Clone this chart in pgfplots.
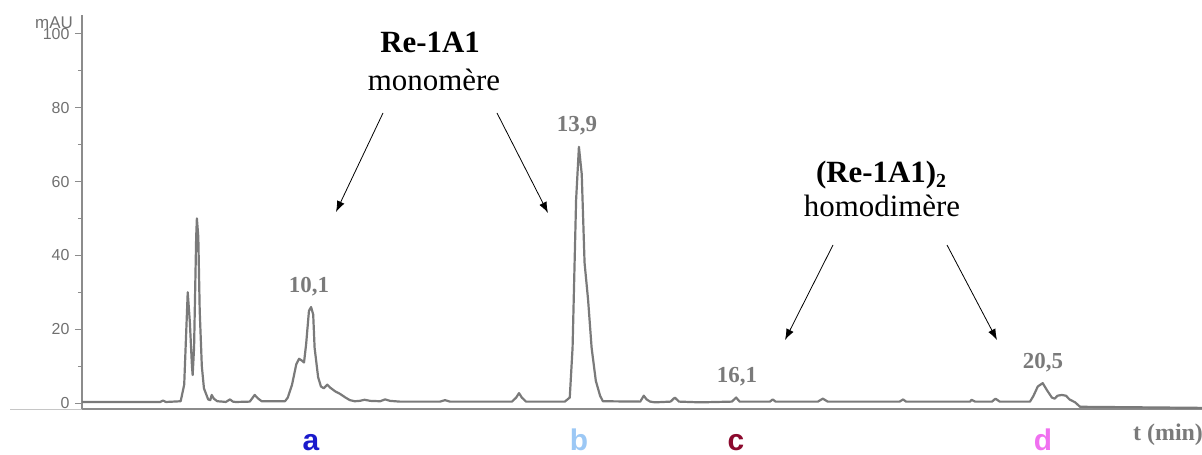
\documentclass[border=0pt]{standalone}
\usepackage{pgfplots}
\pgfplotsset{compat=1.18}
\usetikzlibrary{arrows.meta}
\usepackage{fontspec}
\setmainfont{Liberation Serif}
\newfontfamily\arial{Liberation Sans}
\definecolor{curvegray}{HTML}{7A7A7A}
\definecolor{axisgray}{HTML}{8C8C8C}
\definecolor{labelgray}{HTML}{707070}
\definecolor{peakgray}{HTML}{7A7A7A}
\definecolor{ca}{HTML}{1A1ACC}
\definecolor{cb}{HTML}{9CC8F5}
\definecolor{cc}{HTML}{8C0A2E}
\definecolor{cd}{HTML}{F070F0}
\begin{document}
\begin{tikzpicture}
\begin{axis}[
  at={(82bp,46bp)}, anchor=south west,
  scale only axis, width=1120bp, height=394bp,
  xmin=6.85, xmax=22.74, ymin=-1.6, ymax=105.1,
  axis x line=bottom, axis y line=left,
  axis line style={-, draw=axisgray, line width=1.8bp},
  xtick=\empty,
  ytick={0,20,40,60,80,100}, minor ytick={10,30,50,70,90},
  tick align=outside, major tick length=7bp, minor tick length=4bp,
  tick style={draw=axisgray, line width=1bp},
  yticklabel style={font=\arial\fontsize{16}{16}\selectfont, text=labelgray, xshift=-2bp},
  /pgf/number format/assume math mode=true,
  clip=false,
]
\addplot[curvegray, line width=2.2bp, line join=round] table {
x y
6.85 0.3
7.96 0.3
8.00 0.7
8.04 0.3
8.25 0.5
8.30 5
8.33 20
8.35 30
8.38 22
8.41 10
8.42 7.6
8.44 15
8.47 45
8.48 50
8.50 45
8.52 25
8.55 10
8.58 4
8.61 2.5
8.64 1
8.67 0.8
8.69 2.2
8.72 1.2
8.77 0.5
8.84 0.4
8.89 0.3
8.95 1.0
8.99 0.4
9.03 0.3
9.23 0.4
9.30 2.2
9.35 1.2
9.40 0.5
9.73 0.5
9.77 1.5
9.83 5
9.89 10.5
9.93 12
9.97 11.5
10.00 11
10.03 16
10.07 25
10.10 26
10.13 24
10.15 15
10.20 7
10.24 4.5
10.28 4
10.33 5
10.37 4.2
10.44 3.2
10.51 2.5
10.58 1.6
10.65 0.8
10.72 0.5
10.79 0.6
10.86 0.9
10.94 0.6
11.08 0.5
11.15 1.0
11.22 0.6
11.36 0.4
11.93 0.4
12.00 0.8
12.07 0.4
12.95 0.4
13.01 1.5
13.05 2.7
13.09 1.5
13.15 0.4
13.70 0.4
13.77 1.5
13.81 15
13.86 55
13.90 69.4
13.94 62
13.98 38
14.03 28
14.08 15
14.14 6
14.20 2
14.24 0.5
14.77 0.4
14.82 2
14.86 1
14.91 0.4
14.98 0.2
15.20 0.4
15.26 1.5
15.32 0.4
15.62 0.2
16.07 0.4
16.13 1.5
16.18 0.4
16.61 0.4
16.65 1.0
16.69 0.4
17.29 0.4
17.36 1.2
17.43 0.4
17.82 0.4
18.45 0.4
18.50 1.0
18.54 0.4
19.45 0.4
19.47 0.9
19.52 0.4
19.76 0.4
19.81 1.2
19.87 0.4
20.30 0.4
20.35 2
20.41 4.5
20.48 5.4
20.54 3.5
20.61 1.5
20.65 1.2
20.69 2
20.75 2.2
20.81 2
20.86 1
20.94 0.2
21.01 -1.0
22.74 -1.3
};
\end{axis}
% light extension of the baseline to the left
\draw[gray!45, line width=0.8bp] (10bp,46bp) -- (82bp,46bp);
% unit
\node[font=\arial\fontsize{17}{17}\selectfont, text=labelgray] at (54bp,432bp) {mAU};
% peak labels
\begin{scope}[every node/.style={font=\bfseries\fontsize{23}{23}\selectfont, text=peakgray, anchor=base}]
\node at (309bp,162bp) {10,1};
\node at (577bp,323bp) {13,9};
\node at (737bp,72bp) {16,1};
\node at (1043bp,86bp) {20,5};
\end{scope}
% annotations
\node[font=\bfseries\fontsize{31}{31}\selectfont, anchor=base] at (430bp,402bp) {Re-1A1};
\node[font=\fontsize{31}{31}\selectfont, anchor=base] at (434bp,364bp) {monomère};
\node[font=\bfseries\fontsize{31}{31}\selectfont, anchor=base] at (881bp,272bp) {(Re-1A1)\raisebox{-0.35ex}{\fontsize{20}{20}\selectfont 2}};
\node[font=\fontsize{31}{31}\selectfont, anchor=base] at (882bp,238bp) {homodimère};
\begin{scope}[line width=0.8bp, -{Latex[length=11bp,width=8bp]}]
\draw (383bp,342bp) -- (336bp,243bp);
\draw (497bp,342bp) -- (548bp,242bp);
\draw (833bp,210bp) -- (785bp,115bp);
\draw (947bp,210bp) -- (997bp,115bp);
\end{scope}
% sample letters
\begin{scope}[every node/.style={font=\arial\bfseries\fontsize{30}{30}\selectfont, anchor=base, inner sep=0pt}]
\node[text=ca] at (311bp,5bp) {a};
\node[text=cb] at (579bp,5bp) {b};
\node[text=cc] at (736bp,5bp) {c};
\node[text=cd] at (1043bp,5bp) {d};
\end{scope}
\node[font=\bfseries\fontsize{24}{24}\selectfont, text=peakgray, anchor=base west, inner sep=0pt] at (1133bp,15bp) {t (min)};
\pgfresetboundingbox
\path[use as bounding box] (0,0) rectangle (1202bp,455bp);
\end{tikzpicture}
\end{document}
